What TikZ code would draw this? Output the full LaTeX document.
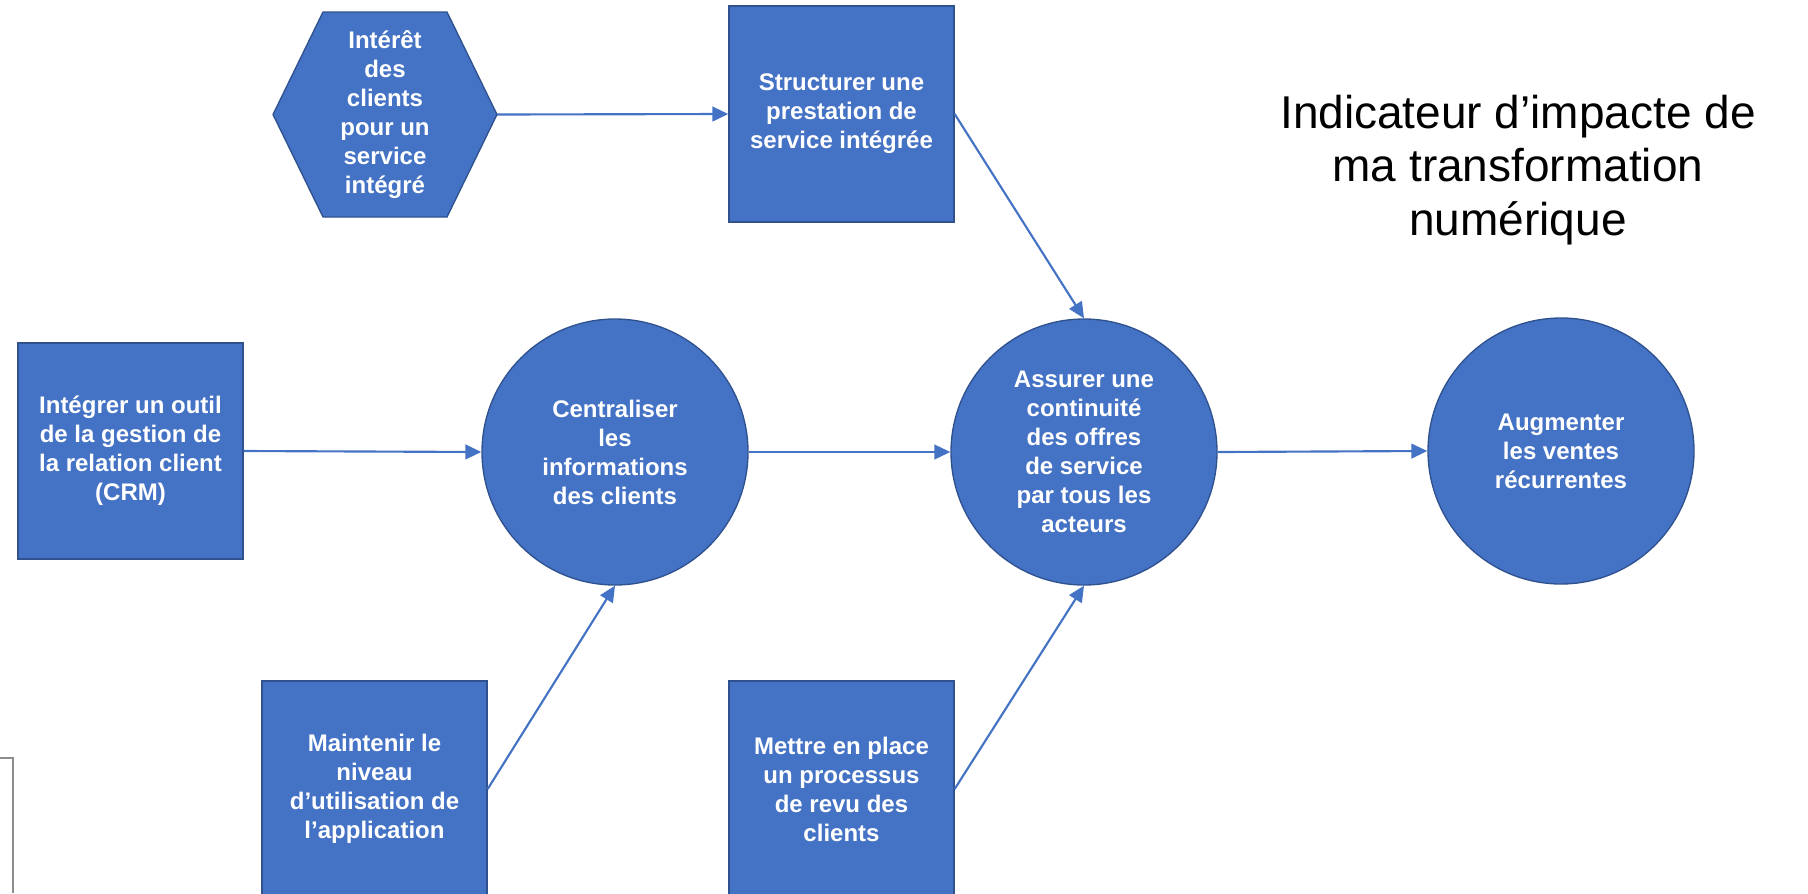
\documentclass[tikz,border=0pt]{standalone}
\usepackage{fontspec}
\setmainfont{Liberation Sans}
\usetikzlibrary{arrows.meta}
\definecolor{boxblue}{HTML}{4472C4}
\definecolor{edgeblue}{HTML}{2F528F}
\definecolor{framegray}{HTML}{8C8C8C}
\begin{document}
\begin{tikzpicture}[x=0.75pt,y=-0.75pt,
  label text/.style={text=white, align=center, inner sep=0pt,
    font=\fontsize{18}{21.75}\selectfont\bfseries},
  shapefill/.style={draw=edgeblue, fill=boxblue, line width=1pt},
  stepbox/.style={label text, shapefill, minimum width=168.75pt,
    minimum height=162pt},
  goal/.style={label text, shapefill, circle, minimum size=199.5pt},
  flow/.style={draw=boxblue, line width=1.6pt,
    -{Triangle[length=12pt,width=11pt]}},
  titletext/.style={align=center, inner sep=0pt,
    font=\fontsize{34.5}{40}\selectfont}
]
\useasboundingbox (0,0) rectangle (1808,893);

% leftover frame corner, bottom left
\coordinate (frameA) at (0,758);
\coordinate (frameB) at (13,758);
\coordinate (frameC) at (13,893);
\draw[framegray, line width=1.2pt] (frameA) -- (frameB) -- (frameC);

% hexagon: customer interest
\coordinate (hexL) at (273,114.5);
\coordinate (hexR) at (497,114.5);
\draw[shapefill] (hexL) -- (323,12) -- (447,12) -- (hexR)
  -- (447,217) -- (323,217) -- cycle;
\node[label text] (hex) at (385,114.5)
  {Intérêt\\des\\clients\\pour un\\service\\intégré};

% action boxes
\node[stepbox] (struct) at (841.5,114)
  {Structurer une\\prestation de\\service intégrée};
\node[stepbox] (crm) at (130.5,451)
  {Intégrer un outil\\de la gestion de\\la relation client\\(CRM)};
\node[stepbox] (maint) at (374.5,789)
  {Maintenir le\\niveau\\d’utilisation de\\l’application};
\node[stepbox] (revue) at (841.5,789)
  {Mettre en place\\un processus\\de revu des\\clients};

% outcome circles
\node[goal] (cent) at (615,452)
  {Centraliser\\les\\informations\\des clients};
\node[goal] (cont) at (1084,452)
  {Assurer une\\continuité\\des offres\\de service\\par tous les\\acteurs};
\node[goal] (ventes) at (1561,451)
  {Augmenter\\les ventes\\récurrentes};

% title
\node[titletext] (title) at (1518,170)
  {Indicateur d’impacte de\\ma transformation\\numérique};

% connectors
\draw[flow] (hexR) -- (struct.west);
\draw[flow] (struct.east) -- (cont.north);
\draw[flow] (crm.east) -- (cent.west);
\draw[flow] (maint.east) -- (cent.south);
\draw[flow] (cent.east) -- (cont.west);
\draw[flow] (revue.east) -- (cont.south);
\draw[flow] (cont.east) -- (ventes.west);
\end{tikzpicture}
\end{document}
